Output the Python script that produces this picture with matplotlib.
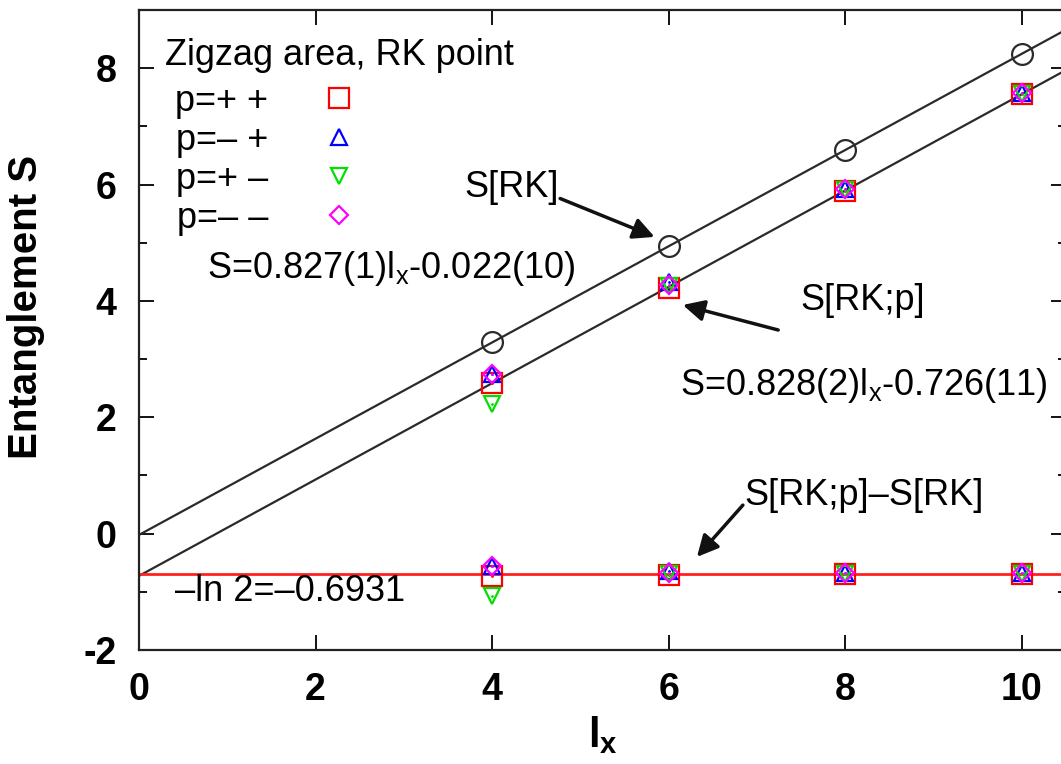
import matplotlib
matplotlib.use("Agg")
import matplotlib.pyplot as plt
from matplotlib.ticker import MultipleLocator

plt.rcParams['font.family'] = ['Liberation Sans', 'DejaVu Sans']
plt.rcParams['mathtext.default'] = 'regular'
plt.rcParams['axes.unicode_minus'] = False

# data
lx = [4, 6, 8, 10]
s_rk = [3.29, 4.95, 6.60, 8.25]          # S[RK], circles
# S[RK;p] for the four sectors
s_pp = [2.59, 4.23, 5.89, 7.56]
s_mp = [2.75, 4.32, 5.93, 7.58]
s_pm = [2.22, 4.26, 5.91, 7.55]
s_mm = [2.74, 4.28, 5.92, 7.57]
# S[RK;p]-S[RK]
d_pp = [-0.73, -0.71, -0.70, -0.70]
d_mp = [-0.55, -0.64, -0.67, -0.68]
d_pm = [-1.07, -0.69, -0.69, -0.70]
d_mm = [-0.56, -0.67, -0.68, -0.68]

fit_rk = (0.827, -0.022)
fit_rkp = (0.828, -0.726)
ln2 = -0.6931

labels = ['p=+ +', 'p=\u2013 +', 'p=+ \u2013', 'p=\u2013 \u2013']
colors = ['#ff0000', '#0000ff', '#00e000', '#ff00ff']
markers = ['s', '^', 'v', 'D']
msizes = [15, 12, 12, 9]

fig = plt.figure(figsize=(10.61, 7.64), dpi=100)
ax = fig.add_axes([139/1061, 114/764, 927/1061, 640/764])

line_col = '#2a2a2a'
ax.axline((0, fit_rk[1]), slope=fit_rk[0], color=line_col, lw=1.6, zorder=2)
ax.axline((0, fit_rkp[1]), slope=fit_rkp[0], color=line_col, lw=1.6, zorder=2)
ax.axhline(ln2, color='#ff2020', lw=2, zorder=2)

ax.plot(lx, s_rk, 'o', ms=15, mfc='none', mec=line_col, mew=1.6, zorder=3)

handles = []
for ys, ds, c, m, ms, lab in zip([s_pp, s_mp, s_pm, s_mm], [d_pp, d_mp, d_pm, d_mm],
                                 colors, markers, msizes, labels):
    h, = ax.plot(lx, ys, m, ms=ms, mfc='none', mec=c, mew=1.6, label=lab, zorder=4)
    ax.plot(lx, ds, m, ms=ms, mfc='none', mec=c, mew=1.6, zorder=4)
    ax.plot(lx, ys, '.', ms=2, color=c, zorder=4)
    ax.plot(lx, ds, '.', ms=2, color=c, zorder=4)
    handles.append(h)

fs = 26
ax.legend(handles=handles, loc='upper left', bbox_to_anchor=(0.039, 0.885),
          frameon=False, markerfirst=False, numpoints=1, fontsize=fs,
          labelspacing=0.11, handlelength=1.3, handletextpad=1.3,
          borderpad=0, borderaxespad=0)

ax.text(0.29, 8.22, 'Zigzag area, RK point', fontsize=fs, va='center', ha='left')
ax.text(3.69, 5.95, 'S[RK]', fontsize=fs, va='center', ha='left')
ax.text(0.77, 4.56, 'S=0.827(1)l$_{x}$-0.022(10)', fontsize=fs, va='center', ha='left')
ax.text(7.49, 4.01, 'S[RK;p]', fontsize=fs, va='center', ha='left')
ax.text(6.13, 2.55, 'S=0.828(2)l$_{x}$-0.726(11)', fontsize=fs, va='center', ha='left')
ax.text(6.86, 0.66, 'S[RK;p]\u2013S[RK]', fontsize=fs, va='center', ha='left')
ax.text(0.41, -1.0, '\u2013ln 2=\u20130.6931', fontsize=fs, va='center', ha='left')

arrow = dict(arrowstyle='-|>', color='#111111', lw=2.5, mutation_scale=32,
             shrinkA=0, shrinkB=0)
ax.annotate('', xy=(5.84, 5.10), xytext=(4.77, 5.76), arrowprops=arrow)
ax.annotate('', xy=(6.16, 3.93), xytext=(7.24, 3.50), arrowprops=arrow)
ax.annotate('', xy=(6.32, -0.40), xytext=(6.84, 0.49), arrowprops=arrow)

ax.set_xlim(0, 10.5)
ax.set_ylim(-2, 9)
ax.xaxis.set_major_locator(MultipleLocator(2))
ax.yaxis.set_major_locator(MultipleLocator(2))
ax.yaxis.set_minor_locator(MultipleLocator(1))
ax.tick_params(which='both', direction='in', top=True, right=True, width=1.3,
               labelsize=27, pad=16)
ax.tick_params(which='major', length=11)
ax.tick_params(which='minor', length=6)
for t in ax.get_xticklabels() + ax.get_yticklabels():
    t.set_fontweight('bold')
for s in ax.spines.values():
    s.set_linewidth(1.6)
    s.set_color('#222222')

ax.set_ylabel('Entanglement S', fontsize=29, fontweight='bold')
ax.yaxis.set_label_coords(-0.101, 0.536)
ax.set_xlabel('l$_{x}$', fontsize=30, fontweight='bold', labelpad=4)

fig.savefig('out.png', dpi=100)
